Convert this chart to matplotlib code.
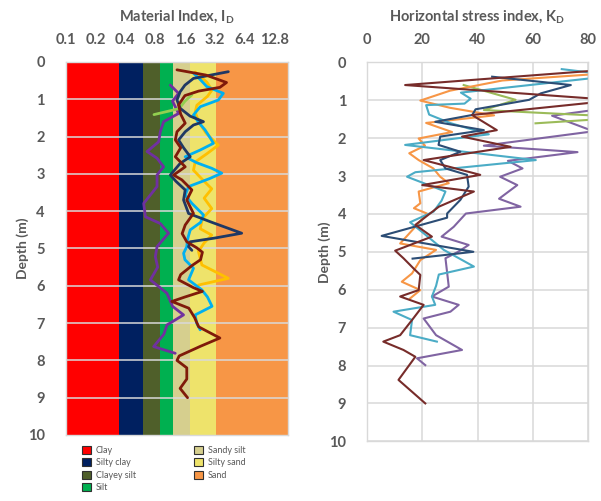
import numpy as np
import matplotlib.pyplot as plt
from matplotlib.patches import Patch
from matplotlib.ticker import FixedLocator, NullLocator

plt.rcParams['font.family'] = ['Lato', 'DejaVu Sans']
plt.rcParams['mathtext.fontset'] = 'custom'
plt.rcParams['mathtext.rm'] = 'Lato:bold'
plt.rcParams['mathtext.it'] = 'Lato:bold'
plt.rcParams['mathtext.bf'] = 'Lato:bold'

GRIS = '#595959'

# Clasificacion de Marchetti (limites de ID)
clases = ['Clay', 'Silty clay', 'Clayey silt', 'Silt', 'Sandy silt', 'Silty sand', 'Sand']
id_inf = [0.1, 0.35, 0.6, 0.9, 1.2, 1.8, 3.3]
colores_clase = ['#ff0000', '#002060', '#4f5f2a', '#00b050', '#d6cf8e', '#eee36b', '#f79646']

id_ticks = [0.1, 0.2, 0.4, 0.8, 1.6, 3.2, 6.4, 12.8]
id_max = 17.3
kd_ticks = [0, 20, 40, 60, 80]
prof_ticks = list(range(11))

# -------------------
# Indice de material ID (profundidad, ID)
# -------------------
id_azul_prof = [0.26, 0.44, 0.62, 0.80, 1.02, 1.24, 1.45, 1.60, 1.69, 1.87, 2.09, 2.30, 2.54, 2.72,
                3.03, 3.20, 3.43, 3.70, 4.06, 4.30, 4.59, 4.72, 4.82, 4.95, 5.05]
id_azul = [4.38, 1.95, 1.6, 1.43, 1.33, 1.43, 1.8, 2.46, 1.95, 1.61, 1.38, 1.55, 1.81, 1.43,
           1.14, 1.3, 1.61, 1.55, 1.74, 3.0, 5.97, 3.2, 1.81, 1.74, 1.88]

id_granate_prof = [0.21, 0.35, 0.55, 0.68, 0.78, 0.90, 1.15, 1.40, 1.64, 1.87, 2.09, 2.30, 2.54, 2.81,
                   3.03, 3.16, 3.43, 3.70, 4.06, 4.37, 4.60, 4.82, 4.98, 5.10, 5.30, 5.45, 5.70, 5.84,
                   6.05, 6.15, 6.30, 6.42, 6.60, 6.85, 7.10, 7.40, 7.62, 7.88, 8.00, 8.20, 8.50, 8.75, 9.0]
id_granate = [1.33, 2.6, 4.2, 3.6, 2.2, 1.6, 1.38, 1.45, 1.61, 1.33, 1.28, 1.45, 1.28, 1.61,
              1.23, 1.49, 1.88, 1.67, 1.95, 1.61, 1.5, 1.67, 2.1, 2.4, 2.3, 1.9, 1.45, 1.38,
              1.95, 2.4, 1.6, 1.18, 1.75, 2.0, 2.2, 3.6, 2.3, 1.4, 1.33, 1.67, 1.67, 1.43, 1.7]

id_celeste_prof = [0.30, 0.48, 0.66, 0.84, 1.02, 1.20, 1.42, 1.62, 1.82, 2.05, 2.18, 2.36, 2.54, 2.70,
                   2.85, 2.98, 3.12, 3.34, 3.57, 3.79, 4.10, 4.30, 4.50, 4.75, 4.95, 5.13, 5.30, 5.53,
                   5.84, 6.11, 6.30, 6.55, 6.78, 7.00, 7.18]
id_celeste = [1.95, 2.3, 2.66, 3.9, 3.47, 2.28, 1.95, 2.2, 2.55, 2.9, 3.1, 2.28, 1.61, 2.1,
              2.98, 3.76, 2.87, 1.74, 1.61, 1.88, 2.46, 2.3, 1.81, 1.7, 1.67, 1.55, 1.6, 1.95,
              1.74, 2.37, 2.7, 3.0, 2.03, 2.1, 2.28]

id_amarillo_prof = [0.27, 0.54, 0.75, 0.92, 1.16, 1.34, 1.60, 1.90, 2.23, 2.46, 2.68, 2.90, 3.15, 3.40,
                    3.65, 3.93, 4.20, 4.47, 4.64, 4.85, 5.08, 5.44, 5.80, 5.98]
id_amarillo = [2.03, 2.66, 3.0, 2.7, 2.11, 2.03, 2.2, 2.6, 3.47, 2.66, 2.03, 1.95, 2.4, 2.98,
               2.5, 2.98, 2.4, 2.28, 2.98, 2.5, 2.19, 2.37, 4.38, 2.19]

id_morado_prof = [0.62, 0.84, 1.05, 1.38, 1.60, 1.87, 2.14, 2.40, 2.58, 2.81, 3.03, 3.34, 3.79, 4.15,
                  4.33, 4.59, 4.95, 5.22, 5.50, 5.84, 6.20, 6.55, 6.78, 7.05, 7.30, 7.63, 7.81]
id_morado = [1.14, 1.38, 1.2, 1.38, 0.975, 0.903, 0.869, 0.664, 0.837, 0.975, 0.837, 0.837, 0.614, 0.639,
             0.903, 1.094, 0.837, 0.805, 0.85, 0.717, 1.054, 1.2, 1.548, 1.054, 0.98, 0.774, 1.277]

id_verde_prof = [0.88, 1.05, 1.25, 1.41]
id_verde = [1.88, 1.6, 1.4, 0.78]

# -------------------
# Indice de tension horizontal KD (profundidad, KD)
# -------------------
kd_granate_prof = [0.2, 0.6, 1.0, 1.39, 1.79, 1.96, 2.23, 2.58, 2.97, 3.24, 3.41, 3.81, 4.29, 4.6,
                   4.97, 5.17, 5.45, 5.61, 6.01, 6.18, 6.4, 6.8, 7.2, 7.37, 7.59, 7.77, 8.38, 9.0]
kd_granate = [86, 13.8, 90, 38, 47, 34.4, 52, 20.5, 41, 20, 38.7, 26, 17.5, 23.5,
              10.2, 13.2, 17, 19.3, 18.7, 12, 20.5, 16.3, 12, 5.9, 13.2, 17.5, 11.4, 21.1]

kd_azul_prof = [0.38, 0.6, 0.82, 0.99, 1.24, 1.39, 1.57, 1.79, 1.96, 2.18, 2.36, 2.58, 2.8, 2.97,
                3.28, 3.63, 3.99, 4.1, 4.58, 5.0, 5.18]
kd_azul = [45.3, 73.8, 62.9, 58.7, 39.3, 38.1, 24.7, 42.3, 26.5, 25.9, 33.8, 26.5, 28.4, 36.2,
           36.8, 33.8, 29, 29, 5.3, 38.5, 16.5]

kd_aqua_prof = [0.18, 0.35, 0.80, 0.96, 1.09, 1.13, 1.38, 1.6, 1.9, 2.18, 2.58, 2.9, 3.02, 3.41,
                3.65, 3.94, 4.22, 4.6, 4.95, 5.39, 5.6, 5.9, 6.18, 6.4, 6.58, 6.8, 7.2, 7.37]
kd_aqua = [70.5, 90, 34, 37.5, 35.3, 21.4, 22.5, 30, 44.1, 13.8, 61.1, 17.5, 14.5, 28.4,
           27, 24.1, 15.6, 22, 27.8, 38.7, 26, 25, 23.5, 24.7, 9.6, 16.3, 15.6, 25.3]

kd_naranja_prof = [0.3, 0.48, 0.75, 1.01, 1.2, 1.4, 1.6, 1.84, 2.01, 2.2, 2.4, 2.58, 2.8, 3.02,
                   3.19, 3.41, 3.72, 3.85, 3.99, 4.3, 4.78, 4.95, 5.22, 5.57, 5.79, 6.01, 6.23]
kd_naranja = [85, 49, 30, 19.3, 30, 46, 21.4, 30.8, 18.7, 21, 15.3, 18.7, 24, 26.5,
              29.6, 18.7, 19.3, 17, 21.7, 18, 12, 25, 19.3, 16.3, 12.6, 19.3, 15.6]

kd_verde_prof = [0.6, 0.99, 1.26, 1.45, 1.61]
kd_verde = [35, 53.8, 42.3, 95, 61]

kd_morado_prof = [1.2, 1.41, 1.82, 2.2, 2.37, 2.6, 2.8, 3.02, 3.24, 3.6, 3.81, 3.99, 4.34, 4.6,
                  4.82, 5.0, 5.17, 5.92, 6.18, 6.4, 6.58, 6.76, 7.2, 7.59, 7.81, 7.99]
kd_morado = [88, 67, 82, 42.3, 76.2, 51, 56.3, 48.2, 54.4, 47.8, 55.6, 35.8, 31.4, 27,
             36.8, 33, 28.4, 29.6, 23.5, 33.2, 30.2, 20.5, 25, 34.4, 18.1, 21.1]

fig = plt.figure(figsize=(6.01, 5.01), dpi=100)

# -------------------
# Grafico izquierdo: ID
# -------------------
ax1 = fig.add_axes([65.5 / 601, 1 - 435 / 501, 222 / 601, 373 / 501])
ax1.set_xscale('log', base=2)
ax1.set_xlim(0.1, id_max)
ax1.set_ylim(10, 0)

lims = id_inf + [id_max]
for i, c in enumerate(colores_clase):
    ax1.axvspan(lims[i], lims[i + 1], color=c, lw=0, zorder=0)
for p in prof_ticks[1:-1]:
    ax1.axhline(p, color='#d9d9d9', lw=1.1, zorder=1)

lw1 = 2.0
estilo = dict(lw=lw1, solid_joinstyle='round', solid_capstyle='round')
ax1.plot(id_morado, id_morado_prof, color='#7030a0', zorder=3, **estilo)
ax1.plot(id_verde, id_verde_prof, color='#92d050', zorder=3, **estilo)
ax1.plot(id_amarillo, id_amarillo_prof, color='#ffc000', zorder=3, **estilo)
ax1.plot(id_celeste, id_celeste_prof, color='#00b0f0', zorder=3, **estilo)
ax1.plot(id_azul, id_azul_prof, color='#1f3864', zorder=4, **estilo)
ax1.plot(id_granate, id_granate_prof, color='#7f1a0a', zorder=5, **estilo)

ax1.xaxis.set_major_locator(FixedLocator(id_ticks))
ax1.xaxis.set_minor_locator(NullLocator())
ax1.set_xticklabels([f'{v:g}' for v in id_ticks])
ax1.set_yticks(prof_ticks)
ax1.xaxis.tick_top()
ax1.set_title(r'Material Index, I$_\mathrm{D}$', color=GRIS, fontsize=10.5,
              fontweight='bold', pad=30)
ax1.set_ylabel('Depth (m)', color=GRIS, fontsize=10, fontweight='bold', labelpad=-1)

# -------------------
# Grafico derecho: KD
# -------------------
ax2 = fig.add_axes([367 / 601, 1 - 441.3 / 501, 221 / 601, 379 / 501])
ax2.set_xlim(0, 80)
ax2.set_ylim(10, 0)
ax2.grid(True, color='#d9d9d9', lw=1.1, zorder=0)
ax2.set_axisbelow(True)

lw2 = 1.5
ax2.plot(kd_morado, kd_morado_prof, color='#8064a2', lw=lw2)
ax2.plot(kd_verde, kd_verde_prof, color='#9bbb59', lw=lw2)
ax2.plot(kd_naranja, kd_naranja_prof, color='#f79646', lw=lw2)
ax2.plot(kd_aqua, kd_aqua_prof, color='#4bacc6', lw=lw2)
ax2.plot(kd_azul, kd_azul_prof, color='#2c4d75', lw=lw2)
ax2.plot(kd_granate, kd_granate_prof, color='#772c2a', lw=lw2)

ax2.set_xticks(kd_ticks)
ax2.set_yticks(prof_ticks)
ax2.xaxis.tick_top()
ax2.set_title(r'Horizontal stress index, K$_\mathrm{D}$', color=GRIS, fontsize=10.5,
              fontweight='bold', pad=30)
ax2.set_ylabel('Depth (m)', color=GRIS, fontsize=10, fontweight='bold', labelpad=-1)

for ax in (ax1, ax2):
    ax.tick_params(axis='both', length=0, labelsize=10.5, labelcolor=GRIS)
    ax.tick_params(axis='x', pad=11)
    ax.tick_params(axis='y', pad=15)
    for lab in ax.get_xticklabels() + ax.get_yticklabels():
        lab.set_fontweight('bold')
    for s in ax.spines.values():
        s.set_color('#d9d9d9')
        s.set_linewidth(1)

# leyenda
handles = [Patch(facecolor=c, edgecolor='#303030', lw=0.8, label=n)
           for n, c in zip(clases, colores_clase)]
fig.legend(handles=handles, ncol=2, loc='upper left',
           bbox_to_anchor=(82 / 601, 1 - 446 / 501), frameon=False,
           fontsize=6.5, labelcolor=GRIS, handlelength=1.0, handleheight=1.0,
           handletextpad=0.5, labelspacing=0.35, columnspacing=6.5,
           borderpad=0, borderaxespad=0)

fig.savefig('out.png', dpi=100)
